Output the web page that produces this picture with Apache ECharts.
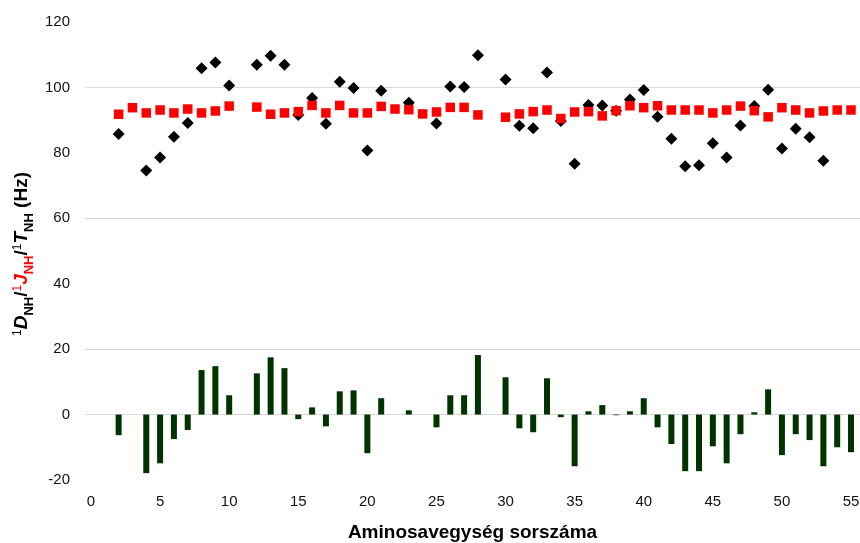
<!DOCTYPE html>
<html>
<head>
<meta charset="utf-8">
<script src="https://cdn.jsdelivr.net/npm/echarts@6/dist/echarts.min.js"></script>
<style>
  html, body { margin: 0; padding: 0; background: #fff; }
  #chart { width: 860px; height: 543px; }
</style>
</head>
<body>
<div id="chart"></div>
<script>
// Residue numbers along the sequence
const residues = [2,3,4,5,6,7,8,9,10,11,12,13,14,15,16,17,18,19,20,21,22,23,24,25,26,27,28,29,30,
  31,32,33,34,35,36,37,38,39,40,41,42,43,44,45,46,47,48,49,50,51,52,53,54,55];

// 1J_NH scalar couplings (Hz), red squares
const jNH = [91.8,93.8,92.2,93.1,92.2,93.4,92.2,92.8,94.3,null,94.0,91.8,92.2,92.6,94.5,92.2,94.5,92.2,92.2,94.2,
  93.4,93.2,91.9,92.5,93.9,93.9,91.6,null,90.9,91.9,92.6,93.1,90.5,92.5,92.6,91.3,92.9,94.4,93.8,94.4,
  93.1,93.1,93.1,92.2,93.1,94.3,92.9,91.0,93.8,93.1,92.2,92.8,93.1,93.1];

// 1T_NH total couplings (Hz), black diamonds
const tNH = [85.8,null,74.6,78.6,84.9,89.1,105.9,107.6,100.6,null,106.9,109.7,106.9,91.6,96.8,88.9,101.7,99.8,80.7,99.0,
  null,95.3,null,89.0,100.3,100.1,109.8,null,102.4,88.3,87.5,104.6,89.7,76.7,94.6,94.5,92.9,96.3,99.2,91.0,
  84.3,75.9,76.2,82.9,78.6,88.4,94.3,99.3,81.3,87.4,84.8,77.6,null,null];

// 1D_NH residual dipolar couplings (Hz), green bars
const dNH = [-6.3,null,-17.9,-14.9,-7.5,-4.7,13.6,14.8,5.9,null,12.6,17.5,14.2,-1.4,2.2,-3.6,7.1,7.4,-11.8,5.0,
  null,1.3,null,-3.9,5.9,5.9,18.2,null,11.4,-4.2,-5.4,11.1,-0.8,-15.8,1.0,2.9,-0.2,1.0,5.0,-3.9,
  -9.0,-17.3,-17.3,-9.7,-14.9,-6.0,0.7,7.7,-12.4,-6.0,-7.8,-15.8,-10.0,-11.5];

// Tick labels
const xTicks = [0,5,10,15,20,25,30,35,40,45,50,55];
const gridValues = [0,20,60,100];

const xTitle = 'Aminosavegység sorszáma';

function pairs(values) {
  const out = [];
  residues.forEach((r, i) => { if (values[i] !== null) out.push([r, values[i]]); });
  return out;
}

const FONT = 'Liberation Sans, Arial, sans-serif';
const chart = echarts.init(document.getElementById('chart'));

// rich styles for the rotated y-axis title (graphic text uses `fill`)
const base = { fontFamily: FONT, fontWeight: 'bold', fontSize: 19, fill: '#000', lineHeight: 27, verticalAlign: 'middle' };
const sub = { fontSize: 13, lineHeight: 13, verticalAlign: 'bottom' };
const sup = { fontSize: 12, fontWeight: 'normal', lineHeight: 15, verticalAlign: 'top', padding: [3, 0, 0, 0] };
const red = { fill: '#ff0000' };
const titleRich = {
  t:    Object.assign({}, base),
  it:   Object.assign({}, base, { fontStyle: 'italic' }),
  sub:  Object.assign({}, base, sub),
  sup:  Object.assign({}, base, sup),
  rit:  Object.assign({}, base, { fontStyle: 'italic' }, red),
  rsub: Object.assign({}, base, sub, red),
  rsup: Object.assign({}, base, sup, red)
};

const option = {
  animation: false,
  backgroundColor: '#fff',
  grid: { left: 85, right: 0, top: 22, bottom: 63, containLabel: false, outerBoundsMode: 'none' },
  xAxis: {
    type: 'value',
    min: -0.434,
    max: 55.65,
    splitLine: { show: false },
    axisLine: { show: false },
    axisTick: { show: false },
    axisLabel: {
      customValues: xTicks,
      fontFamily: FONT, fontSize: 15, color: '#111', margin: 14
    },
    name: xTitle,
    nameLocation: 'middle',
    nameGap: 43,
    nameTextStyle: { fontFamily: FONT, fontWeight: 'bold', fontSize: 19, color: '#000' }
  },
  yAxis: {
    type: 'value',
    min: -20,
    max: 120,
    interval: 20,
    splitLine: { show: false },
    axisLine: { show: false },
    axisTick: { show: false },
    axisLabel: { fontFamily: FONT, fontSize: 15, color: '#111', margin: 15 }
  },
  graphic: [{
    type: 'text',
    x: 22,
    y: 254,
    rotation: Math.PI / 2,
    style: {
      text: '{sup|1}{it|D}{sub|NH}{t|/}{rsup|1}{rit|J}{rsub|NH}{t|/}{sup|1}{it|T}{sub|NH}{t| (Hz)}',
      rich: titleRich,
      align: 'center',
      verticalAlign: 'middle'
    }
  }],
  series: [
    {
      name: 'D',
      type: 'bar',
      data: pairs(dNH),
      barWidth: 6,
      itemStyle: { color: '#003300' },
      z: 2,
      markLine: {
        silent: true,
        symbol: 'none',
        label: { show: false },
        lineStyle: { color: '#d9d9d9', width: 1, type: 'solid' },
        data: gridValues.map(v => ({ yAxis: v })),
        z: 1
      }
    },
    {
      name: 'T',
      type: 'scatter',
      data: pairs(tNH),
      symbol: 'diamond',
      symbolSize: [12, 12],
      itemStyle: { color: '#000', opacity: 1 },
      z: 3
    },
    {
      name: 'J',
      type: 'scatter',
      data: pairs(jNH),
      symbol: 'rect',
      symbolSize: 9.5,
      itemStyle: { color: '#ff0000', opacity: 1 },
      z: 4
    }
  ]
};

chart.setOption(option);
</script>
</body>
</html>
